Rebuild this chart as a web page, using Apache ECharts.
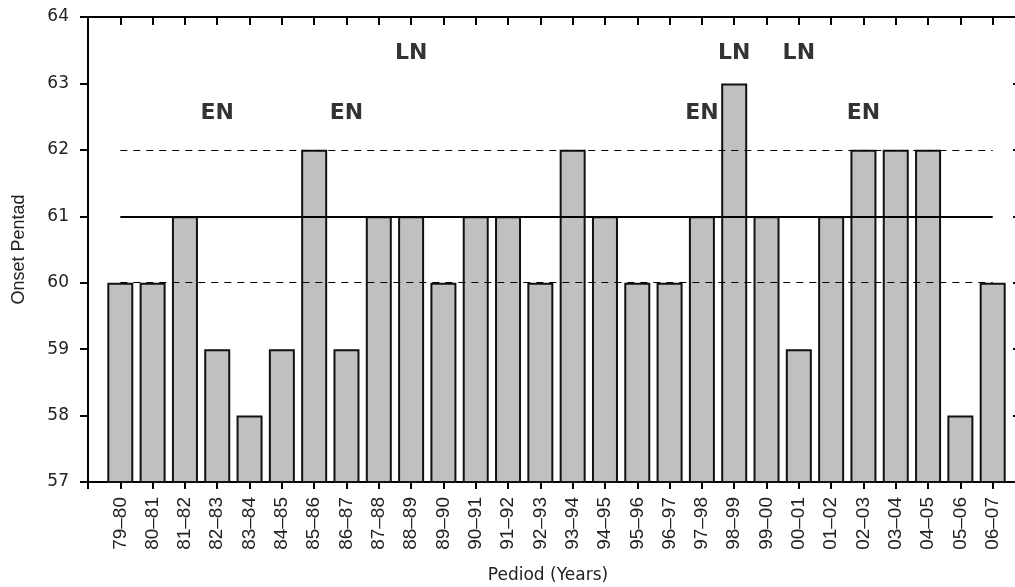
<!DOCTYPE html>
<html>
<head>
<meta charset="utf-8">
<script src="https://cdn.jsdelivr.net/npm/echarts@6/dist/echarts.min.js"></script>
<style>html,body{margin:0;padding:0;background:#fff}#c{width:1015px;height:587px}</style>
</head>
<body>
<div id="c"></div>
<script>
const categories = ['79–80','80–81','81–82','82–83','83–84','84–85','85–86','86–87','87–88','88–89','89–90','90–91','91–92','92–93','93–94','94–95','95–96','96–97','97–98','98–99','99–00','00–01','01–02','02–03','03–04','04–05','05–06','06–07'];
const onset = [60,60,61,59,58,59,62,59,61,61,60,61,61,60,62,61,60,60,61,63,61,59,61,62,62,62,58,60];
const yTicks = [57,58,59,60,61,62,63,64];
const meanLine = 61;
const bandLines = [60,62];
const enYears = ['82–83','86–87','97–98','02–03'];
const lnYears = ['88–89','98–99','00–01'];
const enLevel = 62.55;
const lnLevel = 63.45;

const axisCats = [''].concat(categories).concat(['']);
const barData = [null].concat(onset).concat([null]);
const WIDE = 'DejaVu Sans, sans-serif';
const ARIAL = 'Liberation Sans, Arial, sans-serif';

const chart = echarts.init(document.getElementById('c'));
chart.setOption({
  animation: false,
  grid: {left: 88, width: 937, top: 17, bottom: 105, outerBoundsMode: 'none', containLabel: false},
  xAxis: [{
    type: 'category', data: axisCats, boundaryGap: false, position: 'bottom',
    name: 'Pediod (Years)', nameLocation: 'middle', nameGap: 85,
    nameTextStyle: {fontFamily: WIDE, fontSize: 17, color: '#222', padding: [0, 17, 0, 0]},
    axisLine: {lineStyle: {color: '#000', width: 2}},
    axisTick: {show: true, length: 7, lineStyle: {color: '#000', width: 2}, interval: 0},
    axisLabel: {rotate: 90, interval: 0, fontFamily: ARIAL, fontSize: 19, color: '#222', margin: 15},
    splitLine: {show: false}
  }, {
    type: 'category', data: axisCats, boundaryGap: false, position: 'top',
    axisLine: {lineStyle: {color: '#000', width: 2}},
    axisTick: {show: true, inside: true, length: 8, lineStyle: {color: '#000', width: 2}, interval: 0},
    axisLabel: {show: false}, splitLine: {show: false}
  }],
  yAxis: [{
    type: 'value', min: 57, max: 64, interval: 1, position: 'left',
    name: 'Onset Pentad', nameLocation: 'middle', nameGap: 60,
    nameTextStyle: {fontFamily: ARIAL, fontSize: 18, color: '#222'},
    axisLine: {show: true, lineStyle: {color: '#000', width: 2}},
    axisTick: {show: true, length: 8, lineStyle: {color: '#000', width: 2}},
    axisLabel: {fontFamily: WIDE, fontSize: 17, color: '#222', margin: 19,
      formatter: v => yTicks.includes(v) ? String(v) : ''},
    splitLine: {show: false}
  }, {
    type: 'value', min: 57, max: 64, interval: 1, position: 'right',
    axisLine: {show: true, lineStyle: {color: '#000', width: 2}},
    axisTick: {show: true, inside: true, length: 12, lineStyle: {color: '#000', width: 2}},
    axisLabel: {show: false}, splitLine: {show: false}
  }],
  series: [{
    type: 'bar', data: barData, barWidth: 26,
    itemStyle: {color: '#c0c0c0', borderColor: '#111', borderWidth: 2},
    markLine: {
      silent: true, symbol: 'none', label: {show: false},
      data: [
        [{coord: [categories[0], meanLine], lineStyle: {type: 'solid', width: 2, color: '#000'}}, {coord: [categories[categories.length-1], meanLine]}],
        ...bandLines.map(v => [{coord: [categories[0], v], lineStyle: {type: [7, 6], width: 1.2, color: '#000'}}, {coord: [categories[categories.length-1], v]}])
      ]
    },
    z: 2
  }, {
    type: 'scatter', symbolSize: 0, silent: true,
    data: enYears.map(c => ({value: [c, enLevel], label: {formatter: 'EN'}}))
      .concat(lnYears.map(c => ({value: [c, lnLevel], label: {formatter: 'LN'}}))),
    label: {show: true, position: 'inside', fontFamily: WIDE, fontWeight: 'bold', fontSize: 22, color: '#000'},
    z: 5
  }]
});
</script>
</body>
</html>
